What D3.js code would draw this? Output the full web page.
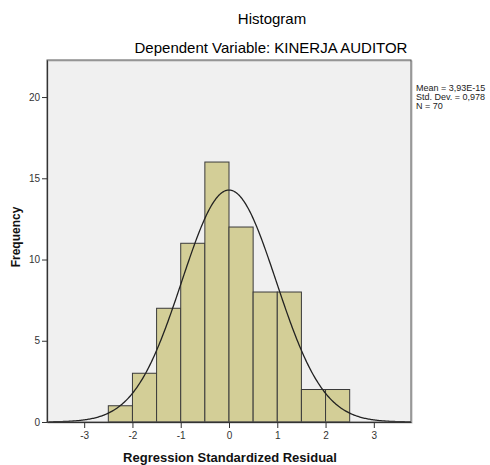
<!DOCTYPE html>
<html>
<head>
<meta charset="utf-8">
<script src="https://cdn.jsdelivr.net/npm/d3@7"></script>
<style>
  body { margin: 0; background: #fff; }
  text { font-family: Arial, "Liberation Sans", sans-serif; }
</style>
</head>
<body>
<script>
// histogram bins (lower edge) and counts
var binStarts = [-2.5, -2, -1.5, -1, -0.5, 0, 0.5, 1, 1.5, 2];
var binWidth = 0.5;
var counts = [1, 3, 7, 11, 16, 12, 8, 8, 2, 2];
var xTicks = [-3, -2, -1, 0, 1, 2, 3];
var yTicks = [0, 5, 10, 15, 20];
var mean = 0;
var stdDev = 0.978;
var n = 70;
var statLines = ["Mean = 3,93E-15", "Std. Dev. = 0,978", "N = 70"];

var width = 490, height = 465;
var plotLeft = 47, plotRight = 411, plotTop = 60, plotBottom = 422;

var svg = d3.select("body").append("svg")
    .attr("width", width)
    .attr("height", height);

var x = d3.scaleLinear().domain([-3.77, 3.77]).range([plotLeft, plotRight]);
var y = d3.scaleLinear().domain([0, 22.28]).range([plotBottom, plotTop]);

// plot background
svg.append("rect")
    .attr("x", plotLeft).attr("y", plotTop)
    .attr("width", plotRight - plotLeft).attr("height", plotBottom - plotTop)
    .attr("fill", "#f0f0f0");

// bars
var bins = binStarts.map(function(b, i){ return { x0: b, x1: b + binWidth, count: counts[i] }; });
svg.selectAll("rect.bar")
    .data(bins)
    .enter()
    .append("rect")
    .attr("class", "bar")
    .attr("x", function(d){ return x(d.x0); })
    .attr("y", function(d){ return y(d.count); })
    .attr("width", function(d){ return x(d.x1) - x(d.x0); })
    .attr("height", function(d){ return y(0) - y(d.count); })
    .attr("fill", "#d3ce97")
    .attr("stroke", "#3a3a3a")
    .attr("stroke-width", 1);

// normal curve
var curvePts = d3.range(-3.77, 3.771, 0.02).map(function(v){
    var pdf = Math.exp(-0.5 * Math.pow((v - mean) / stdDev, 2)) / (stdDev * Math.sqrt(2 * Math.PI));
    return [v, n * binWidth * pdf];
});
svg.append("path")
    .datum(curvePts)
    .attr("fill", "none")
    .attr("stroke", "#222")
    .attr("stroke-width", 1.3)
    .attr("d", d3.line()
        .x(function(d){ return x(d[0]); })
        .y(function(d){ return y(d[1]); }));

// frame
svg.append("rect")
    .attr("x", plotLeft + 1).attr("y", plotTop + 1)
    .attr("width", plotRight - plotLeft).attr("height", plotBottom - plotTop)
    .attr("fill", "none")
    .attr("stroke", "#bbb")
    .attr("stroke-width", 1);
svg.append("rect")
    .attr("x", plotLeft).attr("y", plotTop)
    .attr("width", plotRight - plotLeft).attr("height", plotBottom - plotTop)
    .attr("fill", "none")
    .attr("stroke", "#555")
    .attr("stroke-width", 1);

// axes
var xAxis = svg.append("g")
    .attr("transform", "translate(0," + plotBottom + ")")
    .call(d3.axisBottom(x).tickValues(xTicks).tickSize(6).tickSizeOuter(0).tickPadding(4)
        .tickFormat(function(d){ return d < 0 ? "-" + Math.abs(d) : d; }));
var yAxis = svg.append("g")
    .attr("transform", "translate(" + plotLeft + ",0)")
    .call(d3.axisLeft(y).tickValues(yTicks).tickSize(5).tickSizeOuter(0).tickPadding(2));

[xAxis, yAxis].forEach(function(a){
    a.select(".domain").attr("stroke", "#333");
    a.selectAll(".tick line").attr("stroke", "#333");
    a.selectAll(".tick text")
        .attr("fill", "#333")
        .style("font-size", "10px")
        .style("font-family", "Arial, 'Liberation Sans', sans-serif");
});

// titles
svg.append("text")
    .attr("x", 272).attr("y", 24)
    .attr("text-anchor", "middle")
    .style("font-size", "15px")
    .attr("fill", "#000")
    .text("Histogram");
svg.append("text")
    .attr("x", 271).attr("y", 53)
    .attr("text-anchor", "middle")
    .style("font-size", "15px")
    .attr("fill", "#000")
    .text("Dependent Variable: KINERJA AUDITOR");

// axis labels
svg.append("text")
    .attr("x", 230).attr("y", 462)
    .attr("text-anchor", "middle")
    .style("font-size", "13px")
    .style("font-weight", "bold")
    .attr("fill", "#111")
    .text("Regression Standardized Residual");
svg.append("text")
    .attr("transform", "translate(20,237) rotate(-90)")
    .attr("text-anchor", "middle")
    .style("font-size", "12px")
    .style("font-weight", "bold")
    .attr("fill", "#111")
    .text("Frequency");

// stats legend
svg.selectAll("text.stat")
    .data(statLines)
    .enter()
    .append("text")
    .attr("class", "stat")
    .attr("x", 416)
    .attr("y", function(d, i){ return 91 + i * 9; })
    .style("font-size", "9px")
    .attr("fill", "#222")
    .text(function(d){ return d; });
</script>
</body>
</html>
